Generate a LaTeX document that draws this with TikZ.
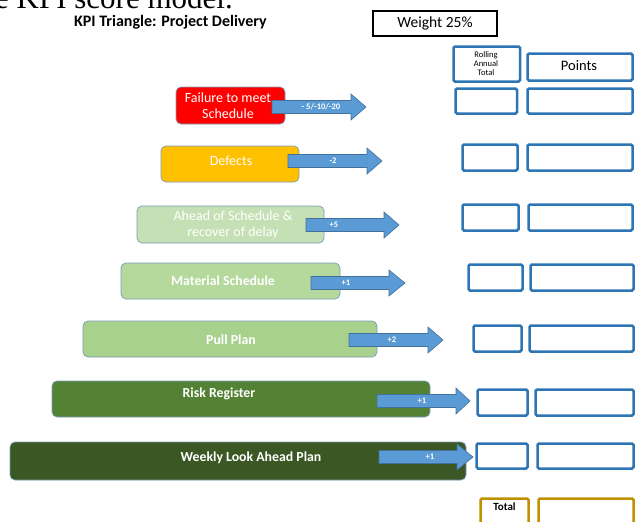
\documentclass[tikz,border=0pt]{standalone}
\usepackage{fontspec}
\setmainfont{Carlito}
\newfontfamily\serifface{Liberation Serif}
\definecolor{kred}{HTML}{FF0000}
\definecolor{korange}{HTML}{FFC000}
\definecolor{kahead}{HTML}{C5E0B4}
\definecolor{kmat}{HTML}{B5D99C}
\definecolor{kpull}{HTML}{A9D18E}
\definecolor{krisk}{HTML}{548235}
\definecolor{kweek}{HTML}{3A5724}
\definecolor{karrfill}{HTML}{5B9BD5}
\definecolor{karredge}{HTML}{41719C}
\definecolor{kblue}{HTML}{2E75B6}
\definecolor{kgold}{HTML}{BF9000}
\tikzset{
  lbox/.style={draw=karredge!70, line width=0.7pt, rounded corners=5pt, inner sep=0pt},
  rb/.style={draw=kblue, line width=2.5pt, rounded corners=1.5pt, inner sep=0pt},
  gb/.style={draw=kgold, line width=2.5pt, rounded corners=1.5pt, inner sep=0pt},
  ltext/.style={text=white, font=\fontsize{14}{16}\selectfont, align=center, inner sep=0pt},
  btext/.style={text=white, font=\fontsize{13.8}{16}\selectfont\bfseries, align=center, inner sep=0pt},
  arrowbody/.style={fill=karrfill, draw=karredge, line width=0.6pt},
  albl/.style={text=white, font=\fontsize{8.5}{10}\selectfont\bfseries, inner sep=0pt},
}
% name, x1, y1, x2, y2, style
\newcommand\kbox[6]{\node[#6, minimum width={#4pt-#2pt}, minimum height={#5pt-#3pt}] (#1) at ({(#2+#4)/2},{(#3+#5)/2}) {};}
% name, x1, xbase, xtip, yc, labelx, label
\newcommand\karrow[7]{%
  \draw[arrowbody] (#2,{#5-6.5}) -- (#3,{#5-6.5}) -- (#3,{#5-13}) -- (#4,#5) -- (#3,{#5+13}) -- (#3,{#5+6.5}) -- (#2,{#5+6.5}) -- cycle;
  \node[albl] (#1) at (#6,#5) {#7};}
\begin{document}
\begin{tikzpicture}[x=1pt,y=-1pt]
\clip (0,0) rectangle (635,522);
\path[use as bounding box] (0,0) rectangle (635,522);
\fill[white] (0,0) rectangle (635,522);

% cut-off line at the top
\node[anchor=base east, inner sep=0pt, font=\serifface\fontsize{31}{32}\selectfont] (topline) at (233,8.5) {the KPI score model.};

% title and weight
\node[font=\fontsize{16}{18}\selectfont\bfseries, inner sep=0pt] (title) at (170.5,22) {KPI Triangle: Project Delivery};
\node[draw=black, line width=2pt, minimum width=124pt, minimum height=25pt, inner sep=0pt, font=\fontsize{15.5}{17}\selectfont] (weight) at (435,23.5) {Weight 25\%};

% left boxes
\kbox{fail}{176}{87}{285}{124}{lbox, fill=kred}
\kbox{def}{161}{146}{299}{182}{lbox, fill=korange}
\kbox{ahead}{137}{206}{324}{243}{lbox, fill=kahead}
\kbox{mat}{121}{263}{340}{299}{lbox, fill=kmat}
\kbox{pull}{83}{321}{377}{357}{lbox, fill=kpull}
\kbox{risk}{52}{381}{430}{417}{lbox, fill=krisk}
\kbox{week}{10}{442}{466}{480}{lbox, fill=kweek}

\node[ltext] (failtxt) at (228,106) {Failure to meet\\Schedule};
\node[ltext] (deftxt) at (231,161) {Defects};
\node[ltext] (aheadtxt) at (233,225) {Ahead of Schedule \&\\recover of delay};
\node[btext] (mattxt) at (223,281) {Material Schedule};
\node[btext] (pulltxt) at (231,340) {Pull Plan};
\node[btext] (risktxt) at (219,394) {Risk Register};
\node[btext] (weektxt) at (251,458) {Weekly Look Ahead Plan};

% block arrows
\karrow{a1}{272}{351}{366}{107}{321}{- 5/-10/-20}
\karrow{a2}{288}{367}{382}{161}{333}{-2}
\karrow{a3}{306}{384}{399}{225}{334}{+5}
\karrow{a4}{311}{389}{405}{283}{346}{+1}
\karrow{a5}{349}{428}{443}{340}{392}{+2}
\karrow{a6}{377}{456}{470}{401}{422}{+1}
\karrow{a7}{379}{457}{473}{457}{430}{+1}

% right column headers
\kbox{rat}{453.5}{46.5}{520}{81.5}{rb}
\node[font=\fontsize{8.5}{9}\selectfont, align=center, inner sep=0pt] (rattxt) at (486,64) {Rolling\\Annual\\Total};
\kbox{pts}{527.5}{53.5}{632.5}{80.5}{rb}
\node[font=\fontsize{14.5}{16}\selectfont, inner sep=0pt] (ptstxt) at (579,66) {Points};

% right column rows
\kbox{r1}{455.5}{88.5}{517}{113.5}{rb}
\kbox{p1}{527.5}{88.5}{632.5}{113.5}{rb}
\kbox{r2}{462.5}{144.5}{517.5}{170.5}{rb}
\kbox{p2}{527.5}{144.5}{632.5}{170.5}{rb}
\kbox{r3}{462.5}{204.5}{518.5}{230.5}{rb}
\kbox{p3}{528.5}{204.5}{632.5}{230.5}{rb}
\kbox{r4}{468.5}{264.5}{522.5}{290.5}{rb}
\kbox{p4}{530.5}{264.5}{633.5}{290.5}{rb}
\kbox{r5}{473.5}{325.5}{521.5}{351.5}{rb}
\kbox{p5}{529.5}{325.5}{633.5}{351.5}{rb}
\kbox{r6}{477.5}{389.5}{527.5}{415.5}{rb}
\kbox{p6}{535.5}{389.5}{633.5}{415.5}{rb}
\kbox{r7}{476.5}{443.5}{527.5}{468.5}{rb}
\kbox{p7}{537.5}{443.5}{633.5}{468.5}{rb}

% total
\kbox{tot}{480.5}{498.5}{528.5}{535}{gb}
\kbox{ptot}{538.5}{498.5}{633.5}{535}{gb}
\node[font=\fontsize{11}{12}\selectfont\bfseries, inner sep=0pt] (tottxt) at (504.5,507) {Total};
\end{tikzpicture}
\end{document}
